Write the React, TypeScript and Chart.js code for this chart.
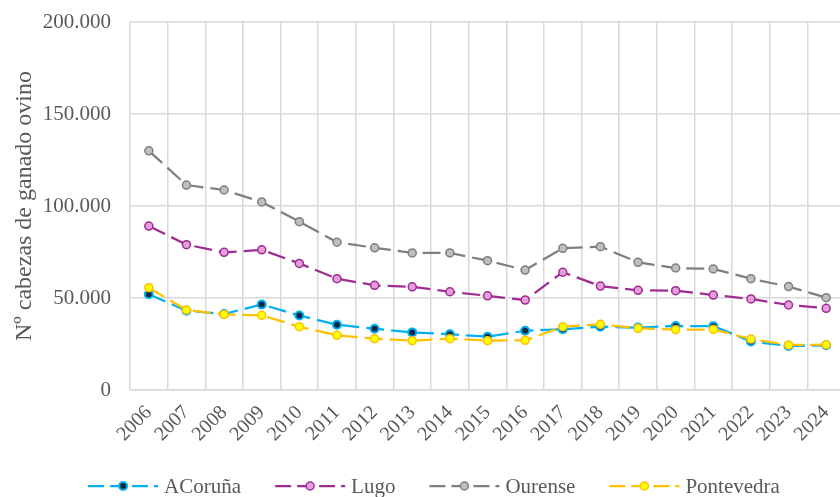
import React, { useEffect, useRef } from "react";
import { Chart, registerables } from "chart.js";

Chart.register(...registerables);

const years = ["2006","2007","2008","2009","2010","2011","2012","2013","2014","2015","2016","2017","2018","2019","2020","2021","2022","2023","2024"];
const coruna = [52000,43100,41300,46500,40500,35500,33300,31300,30300,29000,32200,33000,34400,33900,34800,34700,26400,23900,24300];
const lugo = [89100,79000,74800,76200,68800,60500,56900,56100,53400,51200,48900,64000,56500,54200,54000,51600,49500,46200,44400];
const ourense = [130000,111400,108700,102200,91500,80300,77300,74500,74500,70300,65200,77000,77900,69400,66300,65800,60500,56200,50200];
const pontevedra = [55600,43500,41100,40600,34400,29700,27900,26800,27900,26800,27000,34400,35700,33500,32800,32900,27700,24500,24600];
const yTicks = [0, 50000, 100000, 150000, 200000];
const yTitle = "Nº cabezas de ganado ovino";

const FONT = "'Liberation Serif', 'Times New Roman', serif";
const TEXT = "#595959";
const GRID = "#D9D9D9";

const seriesStyle = [
  { label: "ACoruña", data: coruna, line: "#00B0F0", fill: "#0E2841", order: 3 },
  { label: "Lugo", data: lugo, line: "#A02B93", fill: "#E59EDD", order: 2 },
  { label: "Ourense", data: ourense, line: "#7F7F7F", fill: "#BFBFBF", order: 1 },
  { label: "Pontevedra", data: pontevedra, line: "#FFC000", fill: "#FFFF00", order: 0 },
];

const legendPlugin = {
  id: "excelLegend",
  afterDraw(chart: any) {
    const ctx = chart.ctx;
    const y = 486;
    const sampleW = 70;
    const gapText = 6;
    const gapItem = 34;
    ctx.save();
    ctx.font = `21px ${FONT}`;
    const items = chart.data.datasets.map((ds: any) => ({
      ds,
      tw: ctx.measureText(ds.label).width,
    }));
    const total = items.reduce((s: number, it: any) => s + sampleW + gapText + it.tw, 0) + gapItem * (items.length - 1);
    let x = 434 - total / 2;
    for (const it of items) {
      const ds = it.ds;
      ctx.strokeStyle = ds.borderColor;
      ctx.lineWidth = 2.25;
      ctx.setLineDash([16, 6]);
      ctx.beginPath();
      ctx.moveTo(x, y);
      ctx.lineTo(x + sampleW, y);
      ctx.stroke();
      ctx.setLineDash([]);
      ctx.beginPath();
      ctx.arc(x + sampleW / 2, y, 4, 0, Math.PI * 2);
      ctx.fillStyle = ds.pointBackgroundColor;
      ctx.fill();
      ctx.lineWidth = ds.pointBorderWidth;
      ctx.strokeStyle = ds.pointBorderColor;
      ctx.stroke();
      ctx.fillStyle = TEXT;
      ctx.textBaseline = "middle";
      ctx.textAlign = "left";
      ctx.fillText(ds.label, x + sampleW + gapText, y + 1);
      x += sampleW + gapText + it.tw + gapItem;
    }
    ctx.restore();
  },
};

export default function App() {
  const ref = useRef<HTMLCanvasElement>(null);
  useEffect(() => {
    if (!ref.current) return;
    const chart = new Chart(ref.current, {
      type: "line",
      data: {
        labels: years,
        datasets: seriesStyle.map((s) => ({
          label: s.label,
          data: s.data,
          borderColor: s.line,
          backgroundColor: s.fill,
          borderWidth: 2.25,
          borderDash: [18, 7],
          pointRadius: 4,
          pointBorderWidth: s.label === "ACoruña" ? 2 : 1.5,
          pointBackgroundColor: s.fill,
          pointBorderColor: s.line,
          tension: 0,
          order: s.order,
          fill: false,
        })),
      },
      options: {
        animation: false,
        responsive: false,
        layout: { padding: { top: 22, left: 0, right: 0, bottom: 0 } },
        plugins: {
          legend: { display: false },
          tooltip: { enabled: false },
        },
        scales: {
          x: {
            offset: true,
            grid: { offset: true, color: GRID, lineWidth: 1.5, drawTicks: false },
            border: { color: GRID, width: 1.5 },
            ticks: {
              autoSkip: false,
              minRotation: 45,
              maxRotation: 45,
              padding: 11,
              color: TEXT,
              font: { family: FONT, size: 20 },
            },
            afterFit(scale: any) {
              scale.height = 107;
              scale.paddingLeft = 0;
              scale.paddingRight = 0;
            },
          },
          y: {
            min: 0,
            max: 200000,
            afterBuildTicks(scale: any) {
              scale.ticks = yTicks.map((v) => ({ value: v }));
            },
            grid: { color: GRID, lineWidth: 1.5, drawTicks: false },
            border: { display: false },
            ticks: {
              padding: 19,
              color: TEXT,
              font: { family: FONT, size: 21 },
              callback: (v: any) => Number(v).toLocaleString("de-DE"),
            },
            title: {
              display: true,
              text: yTitle,
              color: TEXT,
              font: { family: FONT, size: 24, weight: "normal" },
              padding: { top: 10, bottom: 0 },
            },
            afterFit(scale: any) {
              scale.width = 130;
              scale.paddingTop = 0;
              scale.paddingBottom = 0;
            },
          },
        },
      },
      plugins: [legendPlugin],
    });
    return () => chart.destroy();
  }, []);
  return (
    <div style={{ position: "fixed", left: 0, top: 0, width: 840, height: 497, overflow: "hidden", background: "#fff" }}>
      <canvas ref={ref} width={851} height={497} style={{ display: "block" }} />
    </div>
  );
}
